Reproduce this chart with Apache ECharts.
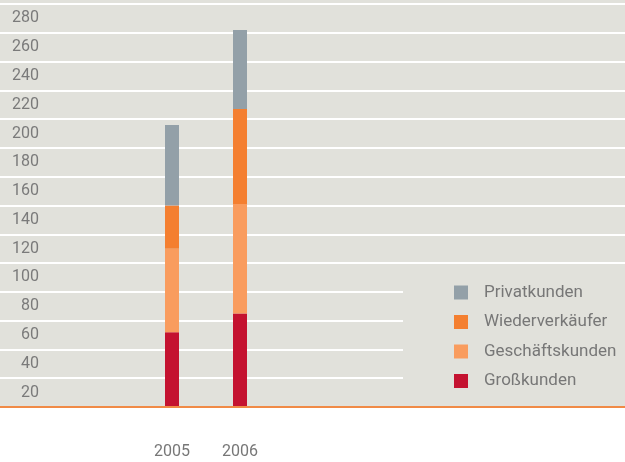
<!DOCTYPE html>
<html><head><meta charset="utf-8">
<script src="https://cdn.jsdelivr.net/npm/echarts@6/dist/echarts.min.js"></script>
<style>html,body{margin:0;padding:0;background:#fff}#c{width:625px;height:462px}</style>
</head><body><div id="c"></div>
<script>
var categories = ['2005', '2006'];
var grosskunden = [52, 65];
var geschaeftskunden = [58, 76];
var wiederverkaeufer = [30, 66];
var privatkunden = [56, 55];
var yTicks = ['20', '40', '60', '80', '100', '120', '140', '160', '180', '200', '220', '240', '260', '280'];

var BG = '#e1e1db';
var FONT = 'Roboto';
var chart = echarts.init(document.getElementById('c'), null, {renderer: 'canvas'});
function s(name, data, color) {
  return {name: name, type: 'bar', stack: 'a', xAxisIndex: 1, yAxisIndex: 2, barWidth: 14,
    data: data, itemStyle: {color: color}, z: 3};
}
chart.setOption({
  backgroundColor: BG,
  animation: false,
  textStyle: {fontFamily: FONT},
  graphic: [{type: 'rect', left: 0, bottom: 0, shape: {width: 625, height: 54}, style: {fill: '#fff'}, z: -1}],
  grid: [
    {left: 0, right: 0, top: 4, bottom: 55},
    {left: 138, width: 136, top: 4, bottom: 55}
  ],
  xAxis: [
    {gridIndex: 0, type: 'value', min: 0, max: 1, axisLine: {show: true, onZero: false, lineStyle: {color: '#f08a46', width: 2}},
      axisTick: {show: false}, axisLabel: {show: false}, splitLine: {show: false}, z: 5},
    {gridIndex: 1, type: 'category', data: categories, axisLine: {show: false}, axisTick: {show: false},
      axisLabel: {color: '#777', fontSize: 16, fontFamily: FONT, margin: 37}}
  ],
  yAxis: [
    {gridIndex: 0, type: 'value', position: 'left', min: 0, max: 280, interval: 20,
      axisLine: {show: false}, axisTick: {show: false}, axisLabel: {show: false},
      splitLine: {lineStyle: {color: '#fff', width: 2}}},
    {gridIndex: 0, type: 'category', position: 'left', offset: 0, data: yTicks, boundaryGap: true,
      axisLine: {show: false}, axisTick: {show: false}, splitLine: {show: false},
      axisLabel: {inside: true, margin: 39, align: 'right', color: '#7a7a7a', fontSize: 16, fontFamily: FONT,
        padding: [2, 0, 0, 0]}},
    {gridIndex: 1, type: 'value', min: 0, max: 280, interval: 20, show: false, splitLine: {show: false}}
  ],
  legend: {
    orient: 'vertical', left: 403, top: 266,
    padding: [18, 20, 17, 51],
    backgroundColor: BG,
    itemWidth: 14, itemHeight: 14, itemGap: 12.5,
    icon: 'rect',
    textStyle: {color: '#777', fontSize: 17, fontFamily: FONT, padding: [0, 0, 0, 11]},
    data: ['Privatkunden', 'Wiederverkäufer', 'Geschäftskunden', 'Großkunden'],
    z: 4
  },
  series: [
    s('Großkunden', grosskunden, '#c41230'),
    s('Geschäftskunden', geschaeftskunden, '#f99c5e'),
    s('Wiederverkäufer', wiederverkaeufer, '#f47f30'),
    s('Privatkunden', privatkunden, '#93a0a8')
  ]
});
</script></body></html>
